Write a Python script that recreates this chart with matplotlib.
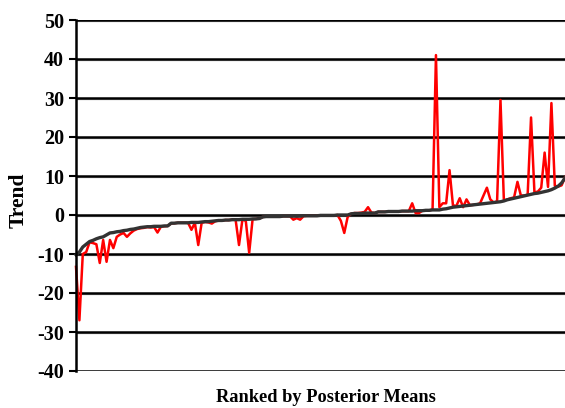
import matplotlib
matplotlib.use("Agg")
import matplotlib.pyplot as plt

# Ranked posterior means (black line)
posterior_means = [
    -10.2, -9.5, -8.2, -7.5, -6.8, -6.5, -6.1, -5.8, -5.6, -5.1,
    -4.6, -4.5, -4.3, -4.2, -4.0, -3.9, -3.7, -3.6, -3.4, -3.2,
    -3.1, -3.0, -3.0, -2.9, -2.9, -2.9, -2.8, -2.8, -2.1, -2.1,
    -2.0, -2.0, -2.0, -2.0, -1.9, -1.9, -1.9, -1.8, -1.7, -1.7,
    -1.6, -1.5, -1.4, -1.4, -1.3, -1.3, -1.2, -1.2, -1.2, -1.1,
    -1.1, -1.1, -1.0, -1.0, -0.9, -0.5, -0.4, -0.4, -0.4, -0.4,
    -0.4, -0.3, -0.3, -0.3, -0.3, -0.3, -0.3, -0.2, -0.2, -0.2,
    -0.2, -0.2, -0.1, -0.1, -0.1, -0.1, -0.1, 0.0, 0.0, 0.0,
    0.0, 0.3, 0.4, 0.4, 0.4, 0.5, 0.5, 0.5, 0.5, 0.8,
    0.8, 0.8, 0.9, 0.9, 0.9, 0.9, 1.0, 1.0, 1.0, 1.0,
    1.1, 1.1, 1.1, 1.2, 1.2, 1.3, 1.3, 1.3, 1.5, 1.6,
    1.8, 2.0, 2.1, 2.2, 2.3, 2.4, 2.5, 2.6, 2.7, 2.8,
    2.9, 3.0, 3.1, 3.2, 3.3, 3.4, 3.6, 3.9, 4.1, 4.3,
    4.5, 4.7, 4.9, 5.1, 5.3, 5.5, 5.6, 5.8, 6.0, 6.2,
    6.5, 6.9, 7.4, 8.2, 9.5,
]

# Observed trends (red line)
trends = [
    -13.3, -27.0, -10.0, -9.5, -7.0, -7.2, -7.5, -12.3, -6.4, -12.0,
    -6.4, -8.5, -5.6, -5.0, -4.6, -5.6, -4.7, -4.0, -3.6, -3.4,
    -3.3, -3.1, -3.2, -3.1, -4.5, -3.0, -2.9, -2.8, -2.2, -2.1,
    -2.0, -2.0, -2.0, -2.0, -3.8, -2.0, -7.7, -2.0, -1.8, -1.9,
    -2.2, -1.6, -1.4, -1.4, -1.3, -1.3, -1.2, -1.2, -7.7, -1.2,
    -1.5, -9.7, -1.1, -1.0, -0.9, -0.5, -0.4, -0.4, -0.4, -0.4,
    -0.4, -0.3, -0.3, -0.3, -1.2, -0.8, -1.2, -0.3, -0.2, -0.2,
    -0.2, -0.2, -0.1, -0.1, -0.1, -0.1, -0.1, 0.0, -1.5, -4.6,
    -0.5, 0.3, 0.5, 0.5, 0.6, 0.8, 2.0, 0.6, 0.5, 0.8,
    0.8, 0.8, 0.9, 0.9, 0.9, 0.9, 1.0, 1.0, 1.0, 3.0,
    0.5, 0.5, 1.1, 1.2, 1.2, 1.4, 41.0, 2.0, 3.0, 3.0,
    11.5, 2.5, 2.3, 4.3, 2.0, 4.0, 2.5, 2.6, 2.7, 3.0,
    5.0, 7.0, 4.0, 3.2, 3.5, 29.5, 3.7, 4.0, 4.3, 4.5,
    8.5, 5.0, 5.0, 5.2, 25.0, 5.8, 6.0, 7.0, 16.0, 7.2,
    28.7, 7.5, 7.3, 7.6, 9.7,
]

y_ticks = [-40, -30, -20, -10, 0, 10, 20, 30, 40, 50]

serif = "Liberation Serif"

fig = plt.figure(figsize=(5.65, 4.08), dpi=100)
ax = fig.add_axes([76 / 565, (408 - 371) / 408, 1 - 76 / 565, (371 - 20) / 408])

x = list(range(len(trends)))

for t in y_ticks:
    ax.axhline(t - 0.35, color="#bbbbbb", lw=1.0, zorder=1)
    ax.axhline(t, color="black", lw=1.8, zorder=2)

ax.plot(x, trends, color="#ff0000", lw=1.8, zorder=3, clip_on=False)
ax.plot(x, posterior_means, color="#333333", lw=2.4, zorder=4, clip_on=False)

ax.set_xlim(0, len(trends) - 1)
ax.set_ylim(-40, 50)
ax.set_yticks(y_ticks)
ax.set_yticklabels([str(t) for t in y_ticks], fontfamily=serif, fontweight="bold", fontsize=14.5)
ax.set_xticks([])
ax.tick_params(axis="y", direction="out", length=5, width=1.5, pad=3.5, color="black")

for s in ["top", "right", "bottom"]:
    ax.spines[s].set_visible(False)
ax.spines["left"].set_linewidth(1.8)
ax.spines["left"].set_zorder(5)

fig.text(19 / 565, 1 - 200 / 408, "Trend", rotation=90, ha="center", va="center",
         fontfamily=serif, fontweight="bold", fontsize=15.5)
fig.text(326 / 565, 1 - 397 / 408, "Ranked by Posterior Means", ha="center", va="center",
         fontfamily=serif, fontweight="bold", fontsize=13.2)

fig.savefig("out.png", dpi=100)
